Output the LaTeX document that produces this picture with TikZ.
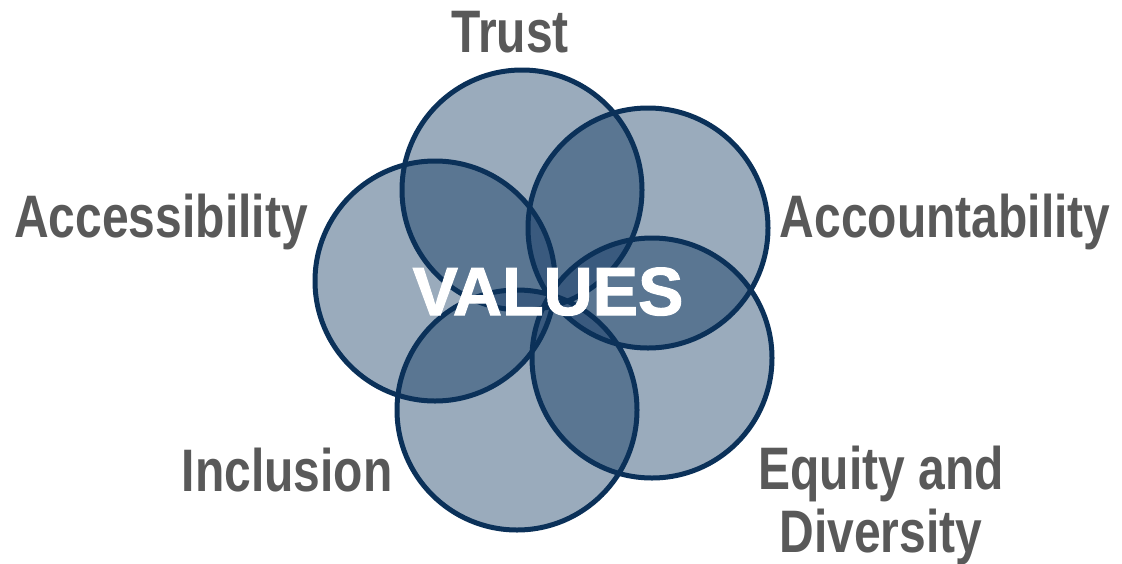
\documentclass[tikz,border=0pt]{standalone}
\usepackage{fontspec}
\setmainfont{Liberation Sans}
\newfontfamily\labfont{Liberation Sans}[FakeStretch=0.8]
\newfontfamily\valfont{Liberation Sans}[BoldFeatures={FakeBold=1.5}]
\definecolor{lite}{HTML}{9AABBC}
\definecolor{dbl}{HTML}{5A7692}
\definecolor{tri}{HTML}{3A5A7E}
\definecolor{edgec}{HTML}{0B3159}
\definecolor{txt}{HTML}{595959}
\begin{document}
\begin{tikzpicture}[x=1pt,y=-1pt,
  lab/.style={text=txt,font=\labfont\bfseries\fontsize{60}{63}\selectfont,inner sep=0pt,anchor=base,align=center},
  val/.style={text=white,font=\valfont\bfseries\fontsize{68}{70}\selectfont,inner sep=0pt,anchor=base},
  ring/.style={draw=edgec,line width=5pt}]
\useasboundingbox (0,0) rectangle (1122,563);
\coordinate (T) at (522,190);
\coordinate (Ac) at (648,228);
\coordinate (E) at (652,358);
\coordinate (I) at (517,410);
\coordinate (As) at (435,281);
\def\rr{120}
% single fills
\foreach \c in {T,Ac,E,I,As} \fill[lite] (\c) circle (\rr);
% pairwise overlaps
\foreach \a/\b in {T/Ac,T/E,T/I,T/As,Ac/E,Ac/I,Ac/As,E/I,E/As,I/As}{
  \begin{scope}
    \clip (\a) circle (\rr);
    \fill[dbl] (\b) circle (\rr);
  \end{scope}
}
% triple overlaps
\foreach \a/\b/\c in {T/Ac/E,T/Ac/I,T/Ac/As,T/E/I,T/E/As,T/I/As,Ac/E/I,Ac/E/As,Ac/I/As,E/I/As}{
  \begin{scope}
    \clip (\a) circle (\rr);
    \clip (\b) circle (\rr);
    \fill[tri] (\c) circle (\rr);
  \end{scope}
}
% outlines
\foreach \c in {T,Ac,E,I,As} \draw[ring] (\c) circle (\rr);
% labels
\node[lab] (trust) at (510,52) {Trust};
\node[lab] (acc) at (161,237) {Accessibility};
\node[lab] (account) at (945,237) {Accountability};
\node[lab] (incl) at (287,491) {Inclusion};
\node[lab] (equity) at (881,552) {Equity and\\Diversity};
\node[val] (values) at (548,315) {VALUES};
\end{tikzpicture}
\end{document}
